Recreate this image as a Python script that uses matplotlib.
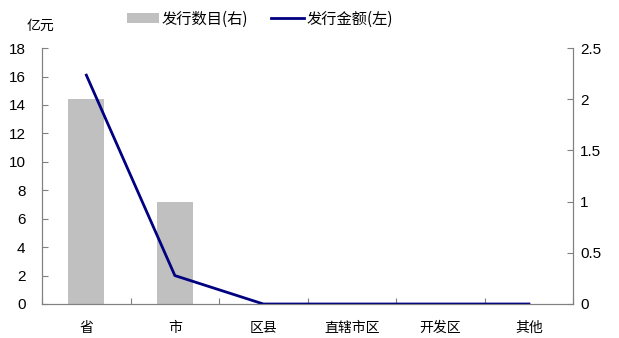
import matplotlib.pyplot as plt
import numpy as np

plt.rcParams['font.family'] = ['Noto Sans CJK SC', 'DejaVu Sans']

categories = ['省', '市', '区县', '直辖市区', '开发区', '其他']
issue_count = [2, 1, 0, 0, 0, 0]          # right axis, bars
issue_amount = [16.1, 2.0, 0, 0, 0, 0]    # left axis, line (亿元)

fig = plt.figure(figsize=(6.19, 3.38), dpi=100)
ax = fig.add_axes([0.068, 0.1006, 0.858, 0.757])
ax2 = ax.twinx()

x = np.arange(len(categories))

# bars on right axis
ax2.bar(x, issue_count, width=0.41, color='#c0c0c0', label='发行数目(右)', zorder=1)
ax2.set_ylim(0, 2.5)
ax2.set_yticks([0, 0.5, 1, 1.5, 2, 2.5])
ax2.set_yticklabels(['0', '0.5', '1', '1.5', '2', '2.5'], family='Liberation Sans')

# line on left axis, drawn above the bars
ax.set_zorder(ax2.get_zorder() + 1)
ax.patch.set_visible(False)
ax.plot(x, issue_amount, color='#000080', linewidth=2, label='发行金额(左)')
ax.set_ylim(0, 18)
ax.set_yticks(range(0, 19, 2))
ax.set_xlim(-0.5, len(categories) - 0.5)

# category boundaries as major ticks, names as minor tick labels
ax.set_xticks(np.arange(len(categories) + 1) - 0.5)
ax.set_xticklabels([])
ax.set_xticks(x, minor=True)
ax.set_xticklabels(categories, minor=True, fontsize=10)
ax.tick_params(axis='x', which='minor', length=0, pad=12)
ax.tick_params(axis='x', which='major', direction='in', length=4, color='#808080')

for a in (ax, ax2):
    for s in a.spines.values():
        s.set_color('#808080')
    a.spines['top'].set_visible(False)

ax.tick_params(axis='y', direction='in', length=4, color='#808080', labelsize=11, pad=12)
ax2.tick_params(axis='y', direction='in', length=4, color='#808080', labelsize=11, pad=5)
for lbl in ax.get_yticklabels():
    lbl.set_family('Liberation Sans')

fig.text(0.065, 0.925, '亿元', fontsize=10, ha='center', va='center')

h1, l1 = ax2.get_legend_handles_labels()
h2, l2 = ax.get_legend_handles_labels()
fig.legend(h1 + h2, l1 + l2, loc='upper center', bbox_to_anchor=(0.42, 1.01),
           ncol=2, frameon=False, fontsize=11, handlelength=2.1, handletextpad=0.2,
           columnspacing=1.5)

fig.savefig('out.png', dpi=100)
